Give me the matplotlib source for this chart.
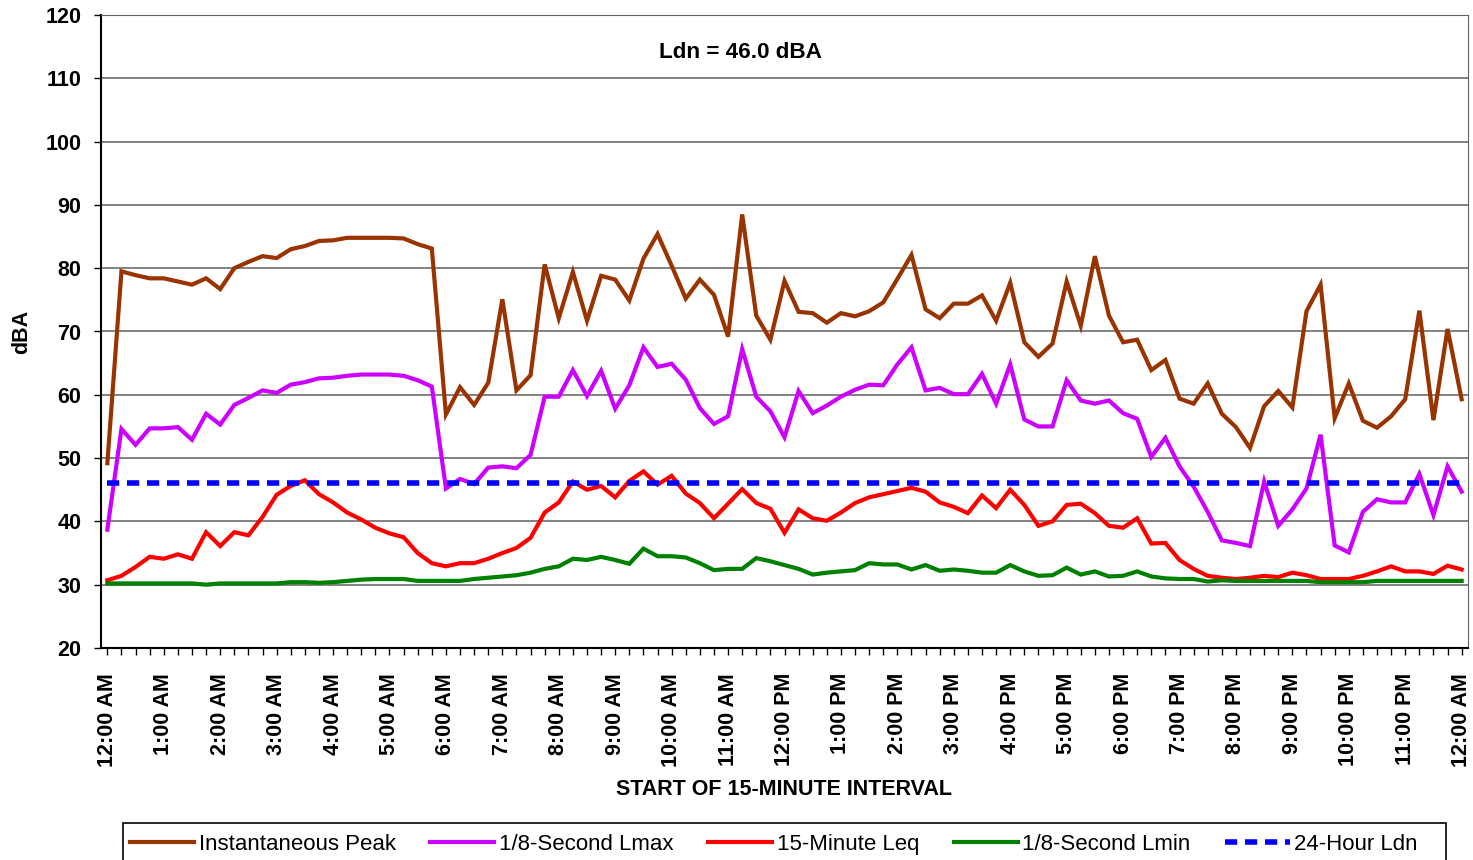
import matplotlib
matplotlib.use("Agg")
import matplotlib.pyplot as plt
from matplotlib.patches import Rectangle

plt.rcParams['font.family'] = ['Liberation Sans', 'DejaVu Sans']

# hourly tick labels (every 4th 15-minute interval)
hour_labels = ["12:00 AM"] + ["%d:00 AM" % h for h in range(1, 12)] + \
              ["12:00 PM"] + ["%d:00 PM" % h for h in range(1, 12)] + ["12:00 AM"]

# values, one per 15-minute interval (97 points)
peak = [49.2, 79.5, 78.9, 78.4, 78.4, 77.9, 77.4, 78.4, 76.7, 80.0, 81.0, 81.9, 81.6, 83.0, 83.5, 84.3,
        84.4, 84.8, 84.8, 84.8, 84.8, 84.7, 83.8, 83.1, 56.9, 61.2, 58.4, 61.9, 75.1, 60.7, 63.1, 80.6,
        72.1, 79.4, 71.7, 78.8, 78.2, 74.9, 81.5, 85.4, 80.4, 75.2, 78.2, 75.8, 69.2, 88.5, 72.5, 68.7,
        78.0, 73.1, 72.9, 71.4, 72.9, 72.4, 73.2, 74.6, 78.3, 82.1, 73.5, 72.1, 74.4, 74.4, 75.7, 71.7,
        77.7, 68.3, 66.0, 68.1, 77.9, 70.9, 81.9, 72.5, 68.3, 68.7, 63.9, 65.5, 59.4, 58.6, 61.8, 57.0,
        54.9, 51.6, 58.2, 60.6, 58.0, 73.2, 77.4, 56.3, 61.8, 55.9, 54.8, 56.6, 59.3, 73.3, 56.0, 70.4,
        59.3]
lmax = [38.7, 54.6, 52.1, 54.7, 54.7, 54.9, 52.9, 57.0, 55.3, 58.4, 59.5, 60.7, 60.3, 61.6, 62.0, 62.6,
        62.7, 63.0, 63.2, 63.2, 63.2, 63.0, 62.3, 61.3, 45.2, 46.7, 45.9, 48.5, 48.7, 48.4, 50.5, 59.7,
        59.7, 63.9, 59.8, 63.8, 57.8, 61.5, 67.5, 64.4, 64.9, 62.4, 57.9, 55.4, 56.6, 67.2, 59.7, 57.4,
        53.3, 60.6, 57.1, 58.3, 59.7, 60.8, 61.6, 61.5, 64.8, 67.5, 60.7, 61.1, 60.1, 60.1, 63.3, 58.6,
        64.8, 56.1, 55.0, 55.0, 62.3, 59.1, 58.6, 59.1, 57.1, 56.2, 50.2, 53.2, 48.7, 45.5, 41.5, 37.0,
        36.6, 36.1, 46.3, 39.3, 41.9, 45.2, 53.7, 36.2, 35.1, 41.5, 43.5, 43.0, 43.0, 47.5, 41.0, 48.7,
        44.7]
leq = [30.7, 31.4, 32.8, 34.4, 34.1, 34.8, 34.1, 38.3, 36.1, 38.3, 37.8, 40.7, 44.2, 45.6, 46.5, 44.3,
       43.0, 41.4, 40.3, 39.0, 38.1, 37.5, 35.0, 33.4, 32.9, 33.4, 33.4, 34.1, 35.0, 35.8, 37.4, 41.4,
       43.0, 46.3, 45.0, 45.6, 43.8, 46.4, 47.9, 45.8, 47.2, 44.4, 42.9, 40.5, 42.8, 45.1, 42.9, 42.0,
       38.2, 41.9, 40.5, 40.1, 41.4, 42.9, 43.8, 44.3, 44.8, 45.3, 44.7, 43.0, 42.3, 41.3, 44.1, 42.1,
       45.0, 42.6, 39.3, 40.0, 42.6, 42.8, 41.3, 39.3, 39.0, 40.5, 36.5, 36.6, 33.9, 32.5, 31.4, 31.1,
       30.9, 31.1, 31.4, 31.2, 31.9, 31.5, 30.9, 30.9, 30.9, 31.4, 32.1, 32.9, 32.1, 32.1, 31.7, 33.0,
       32.4]
lmin = [30.2, 30.2, 30.2, 30.2, 30.2, 30.2, 30.2, 30.0, 30.2, 30.2, 30.2, 30.2, 30.2, 30.4, 30.4, 30.3,
        30.4, 30.6, 30.8, 30.9, 30.9, 30.9, 30.6, 30.6, 30.6, 30.6, 30.9, 31.1, 31.3, 31.5, 31.9, 32.5,
        32.9, 34.1, 33.9, 34.4, 33.9, 33.3, 35.7, 34.5, 34.5, 34.3, 33.4, 32.3, 32.5, 32.5, 34.2, 33.7,
        33.1, 32.5, 31.6, 31.9, 32.1, 32.3, 33.4, 33.2, 33.2, 32.4, 33.1, 32.2, 32.4, 32.2, 31.9, 31.9,
        33.1, 32.1, 31.4, 31.5, 32.7, 31.6, 32.1, 31.3, 31.4, 32.1, 31.3, 31.0, 30.9, 30.9, 30.5, 30.7,
        30.6, 30.6, 30.6, 30.6, 30.6, 30.6, 30.4, 30.4, 30.4, 30.4, 30.6, 30.6, 30.6, 30.6, 30.6, 30.6,
        30.6]
ldn = 46.0

series_names = ["Instantaneous Peak", "1/8-Second Lmax", "15-Minute Leq", "1/8-Second Lmin", "24-Hour Ldn"]
series_colors = ["#993300", "#CC00FF", "#FF0000", "#008000", "#0000FF"]

fig = plt.figure(figsize=(14.73, 8.60), dpi=100, facecolor='white')
ax = fig.add_axes([101 / 1473, 212 / 860, 1367 / 1473, 633 / 860])

x = list(range(len(peak)))
lines = []
for vals, name, col in zip([peak, lmax, leq, lmin], series_names[:4], series_colors[:4]):
    ln, = ax.plot(x, vals, color=col, lw=3, label=name, solid_joinstyle='miter', zorder=3)
    lines.append(ln)
ln, = ax.plot(x, [ldn] * len(x), color=series_colors[4], lw=4, ls=(0, (2.2, 1.4)),
              label=series_names[4], zorder=4)
lines.append(ln)

ax.set_xlim(-0.45, 96.45)
ax.set_ylim(20, 120)
ax.set_yticks(range(20, 121, 10))
ax.yaxis.grid(True, color='#606060', lw=1.1)
ax.set_axisbelow(True)

ax.set_xticks(range(0, 97, 4))
ax.set_xticklabels(hour_labels, rotation=90, fontsize=15.5, fontweight='bold', va='top', ha='center')
ax.set_xticks(range(97), minor=True)
ax.tick_params(axis='x', which='both', direction='out', length=5, width=1, pad=13)
ax.tick_params(axis='y', direction='out', length=5, width=1, labelsize=15.5, pad=9)
for t in ax.get_yticklabels():
    t.set_fontweight('bold')

for side in ['top', 'right']:
    ax.spines[side].set_color('#606060')
ax.spines['left'].set_linewidth(1.5)
ax.spines['bottom'].set_linewidth(1.5)

ax.set_ylabel("dBA", fontsize=15.5, fontweight='bold', labelpad=10)
ax.set_xlabel("START OF 15-MINUTE INTERVAL", fontsize=15.5, fontweight='bold', labelpad=9)

ax.text(0.468, 0.94, "Ldn = %.1f dBA" % ldn, transform=ax.transAxes, ha='center', va='center',
        fontsize=16.2, fontweight='bold')

# legend box runs off the bottom edge of the figure
fig.patches.append(Rectangle((123 / 1473, -0.02), 1323 / 1473, 37 / 860 + 0.02,
                             transform=fig.transFigure, fill=False, ec='black', lw=1.2))
leg = fig.legend(handles=lines, loc='upper left', ncol=5,
                 bbox_to_anchor=(123 / 1473, 33 / 860),
                 fontsize=16, frameon=False,
                 handlelength=2.9, handletextpad=0.2, columnspacing=1.55,
                 borderaxespad=0, borderpad=0.3)

fig.savefig("out.png", dpi=100, facecolor='white')
